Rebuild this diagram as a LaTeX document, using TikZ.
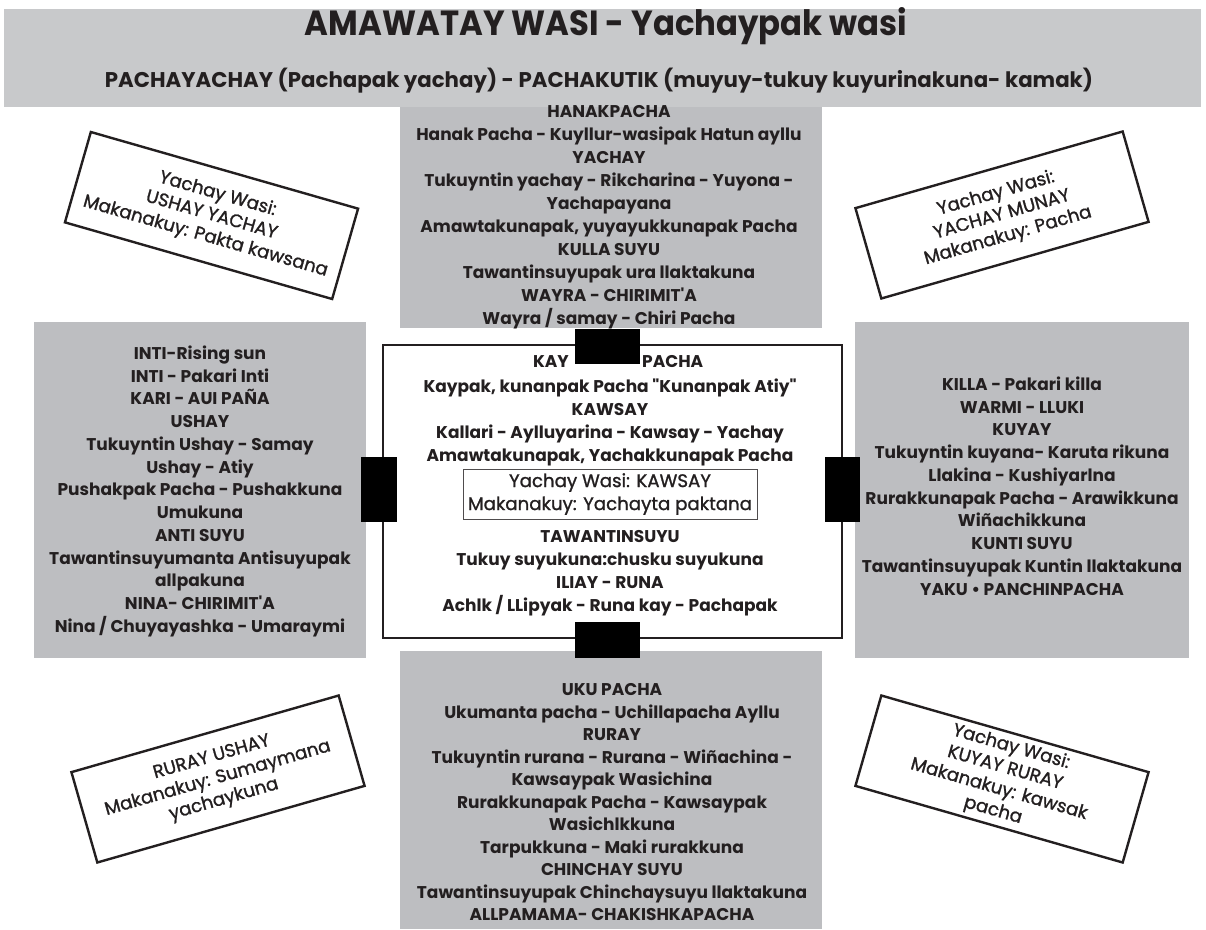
\documentclass[tikz,border=0pt]{standalone}
\usepackage{fontspec}
\setmainfont{Poppins}
\newfontfamily\tagfont{Poppins}[FakeBold=1.2]
\usepackage{graphicx}

\definecolor{bandgray}{RGB}{200,201,203}
\definecolor{boxgray}{RGB}{189,190,193}
\definecolor{ink}{RGB}{35,31,32}

\begin{document}
\begin{tikzpicture}[x=1pt,y=-1pt,
  panel/.style={fill=boxgray,draw=none,inner sep=0pt,outer sep=0pt},
  blockbold/.style={text=ink,align=center,inner sep=0pt,anchor=north,
    font=\fontsize{17}{23}\selectfont\bfseries},
  sideblock/.style={blockbold,font=\fontsize{17}{22.75}\selectfont\bfseries},
  tagbox/.style={draw=ink,line width=2.4pt,fill=white,minimum width=278pt,
    minimum height=94pt,inner sep=0pt,align=center,text=ink,
    font=\tagfont\fontsize{18.2}{22}\selectfont},
  plug/.style={fill=black,draw=none,inner sep=0pt,outer sep=0pt}
]
\useasboundingbox (0,0) rectangle (1206,929);

% header band
\node[fill=bandgray,inner sep=0pt,minimum width=1197pt,minimum height=98pt] (band) at (602.5,58) {};
\node[text=ink,inner sep=0pt] (title) at (606,26.5)
  {\resizebox{602pt}{28pt}{\bfseries AMAWATAY WASI - Yachaypak wasi}};
\node[text=ink,inner sep=0pt,anchor=base] (subtitle) at (599,87.5)
  {\resizebox{988pt}{!}{\bfseries PACHAYACHAY (Pachapak yachay) - PACHAKUTIK (muyuy-tukuy kuyurinakuna- kamak)}};

% four grey panels
\node[panel,minimum width=422pt,minimum height=221pt] (upper) at (611,217.5) {};
\node[panel,minimum width=422pt,minimum height=278pt] (lower) at (611,790) {};
\node[panel,minimum width=332pt,minimum height=336pt] (west) at (200,490) {};
\node[panel,minimum width=334pt,minimum height=336pt] (east) at (1022,490) {};

\node[blockbold] (uppertext) at (609,105.5) {HANAKPACHA\\
Hanak Pacha - Kuyllur-wasipak Hatun ayllu\\
YACHAY\\
Tukuyntin yachay - Rikcharina - Yuyona -\\
Yachapayana\\
Amawtakunapak, yuyayukkunapak Pacha\\
KULLA SUYU\\
Tawantinsuyupak ura llaktakuna\\
WAYRA - CHIRIMIT\textquotesingle A\\
Wayra / samay - Chiri Pacha};

\node[sideblock] (westtext) at (200,345.5) {INTI-Rising sun\\
INTI - Pakari Inti\\
KARI - AUI PA\~NA\\
USHAY\\
Tukuyntin Ushay - Samay\\
Ushay - Atiy\\
Pushakpak Pacha - Pushakkuna\\
Umukuna\\
ANTI SUYU\\
Tawantinsuyumanta Antisuyupak\\
allpakuna\\
NINA- CHIRIMIT\textquotesingle A\\
Nina / Chuyayashka - Umaraymi};

\node[sideblock] (easttext) at (1022,376.5) {KILLA - Pakari killa\\
WARMI - LLUKI\\
KUYAY\\
Tukuyntin kuyana- Karuta rikuna\\
Llakina - Kushiyarlna\\
Rurakkunapak Pacha - Arawikkuna\\
Wi\~nachikkuna\\
KUNTI SUYU\\
Tawantinsuyupak Kuntin llaktakuna\\
YAKU \textbullet{} PANCHINPACHA};

\node[sideblock,font=\fontsize{17}{22.5}\selectfont\bfseries] (lowertext) at (612,683.5) {UKU PACHA\\
Ukumanta pacha - Uchillapacha Ayllu\\
RURAY\\
Tukuyntin rurana - Rurana - Wi\~nachina -\\
Kawsaypak Wasichina\\
Rurakkunapak Pacha - Kawsaypak\\
Wasichlkkuna\\
Tarpukkuna - Maki rurakkuna\\
CHINCHAY SUYU\\
Tawantinsuyupak Chinchaysuyu llaktakuna\\
ALLPAMAMA- CHAKISHKAPACHA};

% central frame
\node[draw=ink,line width=2.5pt,fill=white,minimum width=459pt,minimum height=293pt,inner sep=0pt] (core) at (612.5,491.5) {};
\node[blockbold,anchor=north east] (kay) at (569,355.5) {KAY};
\node[blockbold,anchor=north west] (pacha) at (642,355.5) {PACHA};
\node[blockbold] (coretop) at (610,378.5) {Kaypak, kunanpak Pacha \textquotedbl Kunanpak Atiy\textquotedbl\\
KAWSAY\\
Kallari - Aylluyarina - Kawsay - Yachay\\
Amawtakunapak, Yachakkunapak Pacha};
\node[draw=ink!80,line width=1pt,minimum width=294pt,minimum height=50pt,inner sep=0pt,
  align=center,text=ink,font=\tagfont\fontsize{18.2}{23}\selectfont] (kawsay) at (610,494)
  {Yachay Wasi: KAWSAY\\ Makanakuy: Yachayta paktana};
\node[sideblock] (corebottom) at (610,530.5) {TAWANTINSUYU\\
Tukuy suyukuna:chusku suyukuna\\
ILIAY - RUNA\\
Achlk / LLipyak - Runa kay - Pachapak};

% black connectors on the frame
\node[plug,minimum width=65pt,minimum height=35pt] (plugN) at (607.5,346.5) {};
\node[plug,minimum width=65pt,minimum height=36pt] (plugS) at (607.5,640) {};
\node[plug,minimum width=36pt,minimum height=65pt] (plugW) at (379,489.5) {};
\node[plug,minimum width=35pt,minimum height=65pt] (plugE) at (842.5,489.5) {};

% tilted labels
\node[tagbox,rotate=-16] (tagNW) at (211.5,215.5) {Yachay Wasi:\\ USHAY YACHAY\\ Makanakuy: Pakta kawsana};
\node[tagbox,rotate=16] (tagNE) at (1002,215) {Yachay Wasi:\\ YACHAY MUNAY\\ Makanakuy: Pacha};
\node[tagbox,rotate=16] (tagSW) at (218,779) {RURAY USHAY\\ Makanakuy: Sumaymana\\ yachaykuna};
\node[tagbox,rotate=-16] (tagSE) at (1002,779) {Yachay Wasi:\\ KUYAY RURAY\\ Makanakuy: kawsak\\ pacha};
\end{tikzpicture}
\end{document}
